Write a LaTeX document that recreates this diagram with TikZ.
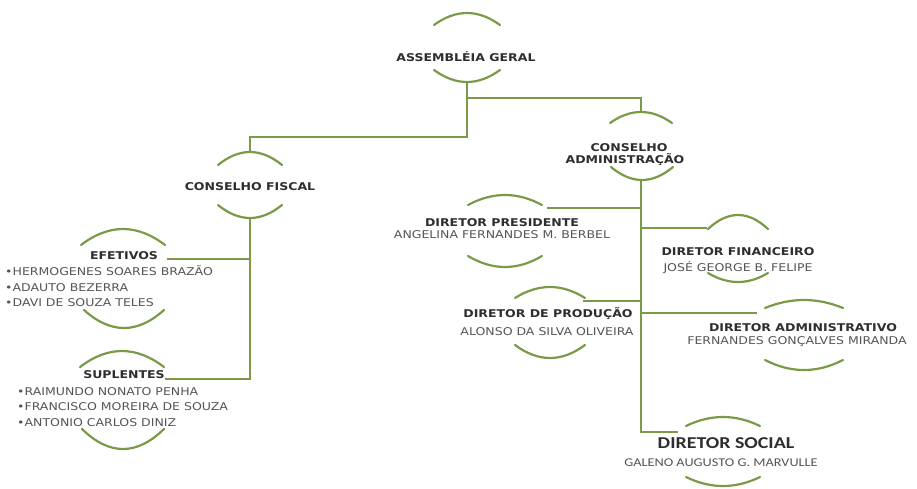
\documentclass[tikz,border=0pt]{standalone}
\usepackage{fontspec}
\setmainfont{DejaVu Sans}[FakeStretch=1.17]
\newfontfamily\calfont{Carlito}[FakeStretch=1.2]
\definecolor{lnc}{HTML}{7A9A48}
\definecolor{ttc}{HTML}{2E2E2E}
\definecolor{nmc}{HTML}{555555}
\tikzset{
  conn/.style={draw=lnc, line width=2.2pt},
  arcl/.style={draw=lnc, line width=2.2pt, line cap=round},
  ttl/.style={font=\fontsize{10.7}{12}\selectfont\bfseries, text=ttc, inner sep=0pt, anchor=base},
  nm/.style={font=\fontsize{10.7}{12}\selectfont, text=nmc, inner sep=0pt, anchor=base},
  lst/.style={font=\fontsize{10.7}{12}\selectfont, text=nmc, inner sep=0pt, anchor=base west},
  bigttl/.style={font=\calfont\fontsize{16.6}{18}\selectfont\bfseries, text=ttc, inner sep=0pt, anchor=base},
  bignm/.style={font=\calfont\fontsize{11.9}{13}\selectfont, text=nmc, inner sep=0pt, anchor=base},
}
\newcommand\toparc[4]{\draw[arcl] ({#1-#3},{#2+#4}) .. controls ({#1-#3/3},{#2-#4/3}) and ({#1+#3/3},{#2-#4/3}) .. ({#1+#3},{#2+#4});}
\newcommand\botarc[4]{\draw[arcl] ({#1-#3},{#2-#4}) .. controls ({#1-#3/3},{#2+#4/3}) and ({#1+#3/3},{#2+#4/3}) .. ({#1+#3},{#2-#4});}
\begin{document}
\begin{tikzpicture}[x=1pt,y=-1pt]
\fill[white] (0,0) rectangle (917,488);
\useasboundingbox (0,0) rectangle (917,488);

% arcs
\toparc{467}{13}{33}{12}   \botarc{467}{82}{33}{12}
\toparc{250}{152}{32}{13}  \botarc{250}{218}{32}{13}
\toparc{123}{229}{42}{16}  \botarc{124}{328}{40}{18}
\toparc{122}{351}{42}{16}  \botarc{123}{449}{41}{20}
\toparc{641}{112}{31}{11}  \botarc{642}{180}{31}{13}
\toparc{505}{195}{37}{10}  \botarc{505}{267}{37}{11}
\toparc{738}{215}{30}{14}  \botarc{738}{282}{30}{9}
\toparc{550}{287}{35}{11}  \botarc{550}{358}{35}{13}
\toparc{804}{300}{39}{8}   \botarc{804}{370}{39}{10}
\toparc{723}{417}{37}{9}   \botarc{723}{486}{37}{9}

% texts
\node[ttl] (ag) at (466,61) {ASSEMBLÉIA GERAL};
\node[ttl] (cf) at (250,190) {CONSELHO FISCAL};
\node[ttl] (ef) at (124,259) {EFETIVOS};
\node[lst] (ef1) at (5,275) {•HERMOGENES SOARES BRAZÃO};
\node[lst] (ef2) at (5,291) {•ADAUTO BEZERRA};
\node[lst] (ef3) at (5,306) {•DAVI DE SOUZA TELES};
\node[ttl] (su) at (124,378) {SUPLENTES};
\node[lst] (su1) at (17,395) {•RAIMUNDO NONATO PENHA};
\node[lst] (su2) at (17,410) {•FRANCISCO MOREIRA DE SOUZA};
\node[lst] (su3) at (17,426) {•ANTONIO CARLOS DINIZ};
\node[ttl] (ca1) at (629,151) {CONSELHO};
\node[ttl] (ca2) at (625,163) {ADMINISTRAÇÃO};
\node[ttl] (dp) at (502,226) {DIRETOR PRESIDENTE};
\node[nm] (dpn) at (502,238) {ANGELINA FERNANDES M. BERBEL};
\node[ttl] (df) at (738,255) {DIRETOR FINANCEIRO};
\node[nm] (dfn) at (738,271) {JOSÉ GEORGE B. FELIPE};
\node[ttl] (dpr) at (548,317) {DIRETOR DE PRODUÇÃO};
\node[nm] (dprn) at (547,335) {ALONSO DA SILVA OLIVEIRA};
\node[ttl] (da) at (803,331) {DIRETOR ADMINISTRATIVO};
\node[nm] (dan) at (797,344) {FERNANDES GONÇALVES MIRANDA};
\node[bigttl] (ds) at (726,448.5) {DIRETOR SOCIAL};
\node[bignm] (dsn) at (721,466) {GALENO AUGUSTO G. MARVULLE};

% connector points
\coordinate (ag-b) at (467,82);
\coordinate (j1) at (467,137);
\coordinate (cf-t) at (250,152);
\coordinate (j2) at (467,98);
\coordinate (ca-t) at (641,112);
\coordinate (cf-b) at (250,218);
\coordinate (j3) at (250,379);
\coordinate (su-e) at (165,379);
\coordinate (j4) at (250,259);
\coordinate (ef-e) at (167,259);
\coordinate (ca-b) at (641,180);
\coordinate (j5) at (641,432);
\coordinate (ds-e) at (678,432);
\coordinate (j6) at (641,208);
\coordinate (dp-e) at (547,208);
\coordinate (j7) at (641,228);
\coordinate (df-e) at (707,228);
\coordinate (j8) at (641,301);
\coordinate (dpr-e) at (583,301);
\coordinate (j9) at (641,313);
\coordinate (da-e) at (757,313);

% connectors
\draw[conn] (ag-b) -- (j1) -| (cf-t);
\draw[conn] (j2) -| (ca-t);
\draw[conn] (cf-b) -- (j3) -- (su-e);
\draw[conn] (j4) -- (ef-e);
\draw[conn] (ca-b) -- (j5) -- (ds-e);
\draw[conn] (j6) -- (dp-e);
\draw[conn] (j7) -- (df-e);
\draw[conn] (j8) -- (dpr-e);
\draw[conn] (j9) -- (da-e);
\end{tikzpicture}
\end{document}
